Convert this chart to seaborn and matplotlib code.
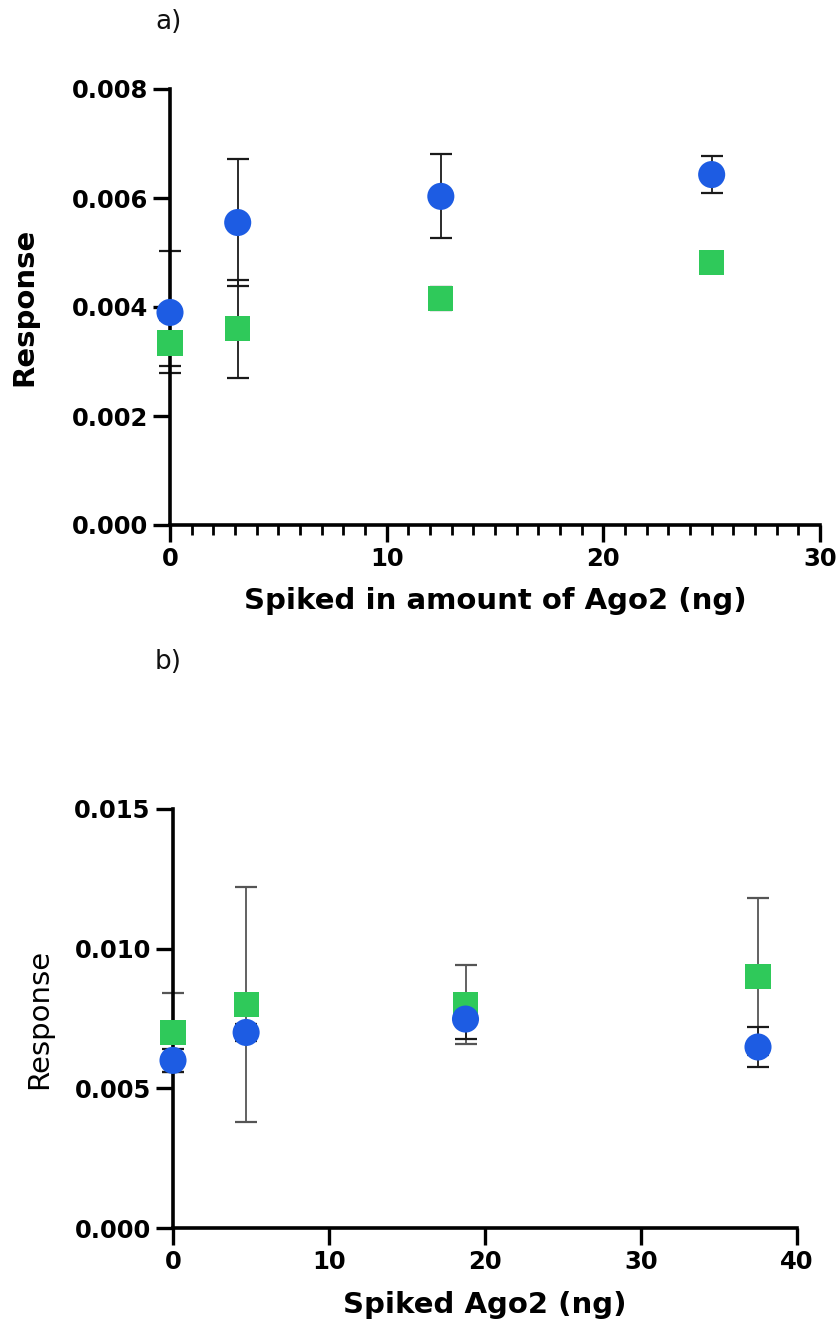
import numpy as np
import pandas as pd
import matplotlib
matplotlib.use("Agg")
import matplotlib.pyplot as plt
from matplotlib.ticker import MultipleLocator
import seaborn as sns

# ---- data ----
a_x = [0, 3.125, 12.5, 25]
a_blue = [0.00390, 0.00555, 0.00603, 0.00643]
a_blue_err = [0.00112, 0.00117, 0.00077, 0.00034]
a_green = [0.00334, 0.00360, 0.00416, 0.00482]
a_green_err = [0.00042, 0.00090, 0.00021, 0.00010]

b_x = [0, 4.6875, 18.75, 37.5]
b_blue = [0.00600, 0.00700, 0.00748, 0.00648]
b_blue_err = [0.00040, 0.00030, 0.00070, 0.00070]
b_green = [0.00700, 0.00800, 0.00800, 0.00900]
b_green_err = [0.00140, 0.00420, 0.00140, 0.00280]

a_yticks = [0.000, 0.002, 0.004, 0.006, 0.008]
a_xticks = [0, 10, 20, 30]
b_yticks = [0.000, 0.005, 0.010, 0.015]
b_xticks = [0, 10, 20, 30, 40]

BLUE = "#1d5ce3"
GREEN = "#2fc95a"

sns.set_style("ticks")
plt.rcParams["font.family"] = ["DejaVu Sans"]

fig = plt.figure(figsize=(8.4, 13.41), dpi=100)
ax_a = fig.add_axes([170/840, 1-525/1341, (820-170)/840, (525-89)/1341])
ax_b = fig.add_axes([173/840, 1-1228/1341, (797-173)/840, (1228-809)/1341])


def draw(ax, x, blue, blue_err, green, green_err, xlim, ylim, xticks, yticks,
         fmt, xlabel, ylabel, ylabel_weight, minor, green_ecolor,
         ylab_x, xlab_y):
    ax.errorbar(x, green, yerr=green_err, fmt="none", ecolor=green_ecolor,
                elinewidth=1.3, capsize=8, capthick=1.6, zorder=2, clip_on=False)
    ax.errorbar(x, blue, yerr=blue_err, fmt="none", ecolor="#1a1a1a",
                elinewidth=1.3, capsize=8, capthick=1.6, zorder=2, clip_on=False)
    dfg = pd.DataFrame({"x": x, "y": green})
    dfb = pd.DataFrame({"x": x, "y": blue})
    sns.scatterplot(data=dfg, x="x", y="y", ax=ax, marker="s", s=330,
                    color=GREEN, edgecolor="none", zorder=3, clip_on=False)
    sns.scatterplot(data=dfb, x="x", y="y", ax=ax, marker="o", s=380,
                    color=BLUE, edgecolor="none", zorder=4, clip_on=False)
    ax.set_xlim(*xlim)
    ax.set_ylim(*ylim)
    ax.set_xticks(xticks)
    ax.set_yticks(yticks)
    ax.set_yticklabels([fmt.format(v) for v in yticks])
    ax.set_xticklabels([str(v) for v in xticks])
    if minor:
        ax.xaxis.set_minor_locator(MultipleLocator(1))
    sns.despine(ax=ax)
    for s in ["left", "bottom"]:
        ax.spines[s].set_linewidth(2.6)
        ax.spines[s].set_color("black")
    ax.tick_params(axis="both", which="major", length=12, width=2.4,
                   labelsize=17.5, pad=4, colors="black")
    ax.tick_params(axis="x", which="minor", length=7, width=2.0, colors="black")
    for lab in ax.get_xticklabels() + ax.get_yticklabels():
        lab.set_fontweight("bold")
    ax.set_xlabel(xlabel, fontsize=21, fontweight="bold", color="black")
    ax.set_ylabel(ylabel, fontsize=21, fontweight=ylabel_weight, color="black")
    ax.yaxis.set_label_coords(ylab_x, 0.5)
    ax.xaxis.set_label_coords(0.5, xlab_y)
    ax.xaxis.label.set_va("top")


draw(ax_a, a_x, a_blue, a_blue_err, a_green, a_green_err, (0, 30), (0, 0.008),
     a_xticks, a_yticks, "{:.3f}", "Spiked in amount of Ago2 (ng)", "Response",
     "bold", True, "#1a1a1a", -0.203, -0.143)
draw(ax_b, b_x, b_blue, b_blue_err, b_green, b_green_err, (0, 40), (0, 0.015),
     b_xticks, b_yticks, "{:.3f}", "Spiked Ago2 (ng)", "Response",
     "normal", False, "#555555", -0.192, -0.150)

fig.text(155/840, 1-22/1341, "a)", fontsize=19, va="center", ha="left",
         color="#111111")
fig.text(155/840, 1-662/1341, "b)", fontsize=19, va="center", ha="left",
         color="#111111")

fig.savefig("out.png", dpi=100)
